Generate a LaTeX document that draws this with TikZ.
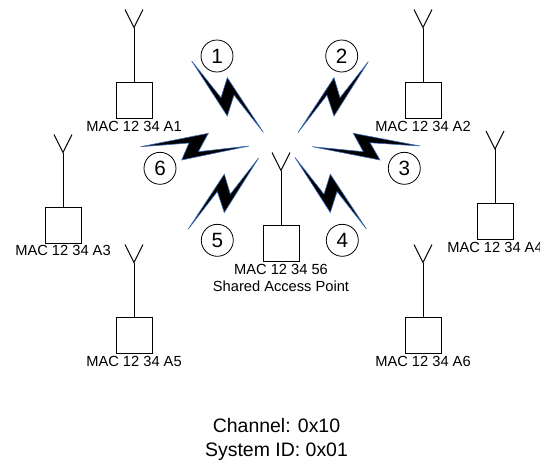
\documentclass[tikz,border=0pt]{standalone}
\usepackage{fontspec}
\setmainfont{Liberation Sans}
\usetikzlibrary{positioning}

\definecolor{boltblue}{RGB}{60,106,180}
\tikzset{
  stationbox/.style={draw, line width=0.75pt, minimum size=27pt, inner sep=0pt},
  maclabel/.style={inner sep=0pt, font=\fontsize{11}{13}\selectfont, align=center},
  numcircle/.style={draw, circle, line width=0.6pt, minimum size=24pt, inner sep=0pt, font=\fontsize{15.5}{16}\selectfont},
  bolt/.style={fill=black, draw=boltblue, line width=0.45pt, line join=miter},
  antenna/.style={line width=0.75pt}
}

\begin{document}
\begin{tikzpicture}[x=0.75pt, y=-0.75pt]
    \useasboundingbox (0,0) rectangle (540,462);

    \node[stationbox] (a1) at (134,100) {};
    \node[stationbox] (a2) at (423,100) {};
    \node[stationbox] (a3) at (63,225) {};
    \node[stationbox] (a4) at (495,221.5) {};
    \node[stationbox] (a5) at (134,335) {};
    \node[stationbox] (a6) at (423,335) {};
    \node[stationbox] (ap) at (281,243) {};

    \node[maclabel, below=2pt of a1] (l1) {MAC 12 34 A1};
    \node[maclabel, below=2pt of a2] (l2) {MAC 12 34 A2};
    \node[maclabel, below=1pt of a3] (l3) {MAC 12 34 A3};
    \node[maclabel, below=1.5pt of a4] (l4) {MAC 12 34 A4};
    \node[maclabel, below=1.5pt of a5] (l5) {MAC 12 34 A5};
    \node[maclabel, below=1.5pt of a6] (l6) {MAC 12 34 A6};
    \node[maclabel, below=1.5pt of ap] (lp) {MAC 12 34 56\\Shared Access Point};

    \foreach \st in {a1,a2,a3,a4,a5,a6,ap} {
      \coordinate[above=40.5pt of \st] (\st-j);
      \coordinate (\st-l) at ([xshift=-6.75pt, yshift=13.5pt]\st-j);
      \coordinate (\st-r) at ([xshift=6.75pt, yshift=13.5pt]\st-j);
      \draw[antenna] (\st) -- (\st-j);
      \draw[antenna] (\st-l) -- (\st-j) -- (\st-r);
    }

    \draw[bolt] (191.7,61) -- (221,97.7) -- (227.3,77.7) -- (263.3,132.3) -- (234,95) -- (227.3,116) -- cycle;
    \draw[bolt] (368.3,61.7) -- (340,97.7) -- (334,77.7) -- (298,132.5) -- (327,95) -- (334,116) -- cycle;
    \draw[bolt] (312.3,146.7) -- (363.3,151.7) -- (353.3,133.3) -- (420,146) -- (370,142.7) -- (380,160) -- cycle;
    \draw[bolt] (295,157.5) -- (324,194.2) -- (330.3,174.2) -- (366.3,228.8) -- (337,191.5) -- (330.3,212.5) -- cycle;
    \draw[bolt] (258.6,158) -- (230.3,194.2) -- (224.3,174.2) -- (188.3,229) -- (217.3,191.5) -- (224.3,212.5) -- cycle;
    \draw[bolt] (249,146) -- (198.3,151.7) -- (208.3,133.3) -- (140.7,146.7) -- (189,143) -- (181.7,160) -- cycle;

    \node[numcircle] (n1) at (217,56) {1};
    \node[numcircle] (n2) at (341.7,56) {2};
    \node[numcircle] (n3) at (404.3,168.3) {3};
    \node[numcircle] (n4) at (342.3,240.3) {4};
    \node[numcircle] (n5) at (217.3,240.3) {5};
    \node[numcircle] (n6) at (160,168.3) {6};

    \node[align=center, inner sep=0pt, font=\fontsize{14.6}{18.4}\selectfont] (sys) at (276.5,439.5) {Channel: 0x10\\System ID: 0x01};
\end{tikzpicture}
\end{document}
